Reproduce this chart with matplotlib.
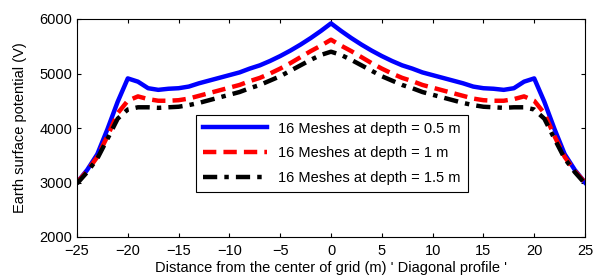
import numpy as np
import matplotlib
matplotlib.use("Agg")
import matplotlib.pyplot as plt

# half profile from -25 to 0 m, mirrored for the other side
x_half = [-25, -24, -23, -22, -21, -20, -19, -18, -17, -16, -15, -14, -13,
          -12, -11, -10, -9, -8, -7, -6, -5, -4, -3, -2, -1, 0]
v_05 = [3000, 3230, 3520, 3980, 4480, 4910, 4850, 4730, 4700, 4720, 4730, 4760, 4820,
        4870, 4920, 4970, 5020, 5090, 5150, 5230, 5320, 5420, 5530, 5650, 5780, 5920]
v_10 = [3000, 3210, 3470, 3850, 4270, 4500, 4580, 4530, 4500, 4500, 4510, 4540, 4590,
        4640, 4690, 4740, 4790, 4860, 4920, 5000, 5090, 5190, 5300, 5410, 5510, 5620]
v_15 = [2980, 3190, 3440, 3800, 4170, 4340, 4380, 4380, 4370, 4380, 4390, 4420, 4460,
        4510, 4560, 4610, 4660, 4730, 4790, 4870, 4950, 5050, 5150, 5250, 5340, 5400]
labels = ["16 Meshes at depth = 0.5 m", "16 Meshes at depth = 1 m",
          "16 Meshes at depth = 1.5 m"]


def mirror(vals):
    return np.array(vals + vals[-2::-1])


x = np.array(x_half + [-v for v in x_half[-2::-1]])

plt.rcParams["font.family"] = ["Liberation Sans", "DejaVu Sans"]
fig = plt.figure(figsize=(5.94, 2.77), dpi=100)
ax = fig.add_axes([77 / 594, 40 / 277, 508 / 594, 218 / 277])

ax.plot(x, mirror(v_05), "-", color="#0000ff", lw=3.2, label=labels[0])
ax.plot(x, mirror(v_10), "--", color="#ff0000", lw=3.2, dashes=(3, 1.6), label=labels[1])
ax.plot(x, mirror(v_15), "-.", color="black", lw=3.2, dashes=(3.2, 1.6, 1, 1.6), label=labels[2])

ax.set_xlim(-25, 25)
ax.set_ylim(2000, 6000)
ax.set_xticks(range(-25, 26, 5))
ax.set_yticks(range(2000, 6001, 1000))
ax.tick_params(direction="in", labelsize=10.5, length=3, top=True, right=True)
ax.tick_params(axis="x", pad=5)
for s in ax.spines.values():
    s.set_linewidth(0.8)
ax.set_xlabel("Distance from the center of grid (m) ' Diagonal profile '", fontsize=10.5, labelpad=2)
ax.set_ylabel("Earth surface potential (V)", fontsize=10.5, labelpad=9)

leg = ax.legend(loc="upper left", bbox_to_anchor=(119 / 508, (237 - 115) / 218),
                borderaxespad=0, fontsize=10.5, fancybox=False, framealpha=1,
                edgecolor="black", handlelength=4.4, borderpad=0.45, labelspacing=0.75)
leg.get_frame().set_linewidth(0.8)

fig.savefig("out.png", dpi=100)
